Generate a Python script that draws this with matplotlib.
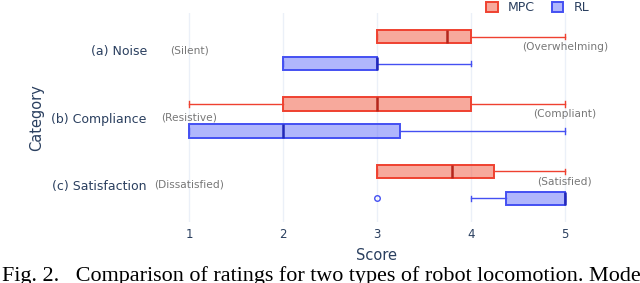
import matplotlib.pyplot as plt
from matplotlib.patches import Patch

categories = ["(a) Noise", "(b) Compliance", "(c) Satisfaction"]
low_labels = ["(Silent)", "(Resistive)", "(Dissatisfied)"]
high_labels = ["(Overwhelming)", "(Compliant)", "(Satisfied)"]
score_ticks = [1, 2, 3, 4, 5]

# MPC box stats per category
mpc_lo = [3, 1, 3]
mpc_q1 = [3, 2, 3]
mpc_med = [3.75, 3, 3.8]
mpc_q3 = [4, 4, 4.25]
mpc_hi = [5, 5, 5]
mpc_out = [[], [], []]

# RL box stats per category
rl_lo = [2, 1, 4]
rl_q1 = [2, 1, 4.375]
rl_med = [3, 2, 5]
rl_q3 = [3, 3.25, 5]
rl_hi = [4, 5, 5]
rl_out = [[], [], [3]]

MPC_LINE = "#ef4130"
MPC_FILL = (0.94, 0.33, 0.23, 0.5)
MPC_MED = "#b5261c"
RL_LINE = "#4450f2"
RL_FILL = (0.39, 0.43, 0.98, 0.5)
RL_MED = "#2228b8"
TXT = "#2a3f5f"
GRID = "#ebf0f8"


def make_stats(lo, q1, med, q3, hi, out):
    stats = []
    for i in range(len(lo)):
        stats.append({"whislo": lo[i], "q1": q1[i], "med": med[i],
                      "q3": q3[i], "whishi": hi[i], "fliers": out[i]})
    return stats


def draw(ax, stats, pos, line, fill, med):
    ax.bxp(stats, positions=pos, widths=0.2, capwidths=0.08,
           orientation="horizontal", patch_artist=True, showfliers=True,
           boxprops=dict(facecolor=fill, edgecolor=line, linewidth=1.4),
           whiskerprops=dict(color=line, linewidth=1.0),
           capprops=dict(color=line, linewidth=1.0),
           medianprops=dict(color=med, linewidth=1.8),
           flierprops=dict(marker="o", markersize=4, markerfacecolor="none",
                           markeredgecolor=line, markeredgewidth=1.0))


fig = plt.figure(figsize=(6.4, 2.83), dpi=100)
ax = fig.add_axes([0.288, 0.2155, 0.602, 0.7385])

ypos = list(range(len(categories)))
draw(ax, make_stats(mpc_lo, mpc_q1, mpc_med, mpc_q3, mpc_hi, mpc_out),
     [y - 0.2 for y in ypos], MPC_LINE, MPC_FILL, MPC_MED)
draw(ax, make_stats(rl_lo, rl_q1, rl_med, rl_q3, rl_hi, rl_out),
     [y + 0.2 for y in ypos], RL_LINE, RL_FILL, RL_MED)

for i, y in enumerate(ypos):
    ax.text(1, y, low_labels[i], ha="center", va="center", fontsize=7.7, color="#777777")
    ax.text(5, y - 0.05, high_labels[i], ha="center", va="center", fontsize=7.7, color="#777777")

ax.set_xlim(0.95, 5.05)
ax.set_ylim(2.55, -0.55)
ax.set_xticks(score_ticks)
ax.set_xticklabels([str(t) for t in score_ticks])
ax.set_yticks(ypos)
ax.set_yticklabels(categories)
ax.tick_params(axis="x", length=0, pad=4, labelsize=8.5, labelcolor=TXT)
ax.tick_params(axis="y", length=0, pad=27, labelsize=9, labelcolor=TXT)
ax.grid(axis="x", color=GRID, linewidth=1.0)
ax.set_axisbelow(True)
for s in ax.spines.values():
    s.set_visible(False)

ax.set_xlabel("Score", fontsize=10.5, color=TXT, labelpad=5)
ax.set_ylabel("Category", fontsize=10.5, color=TXT, labelpad=5)

handles = [Patch(facecolor=MPC_FILL, edgecolor=MPC_LINE, linewidth=1.4, label="MPC"),
           Patch(facecolor=RL_FILL, edgecolor=RL_LINE, linewidth=1.4, label="RL")]
fig.legend(handles=handles, loc="upper right", bbox_to_anchor=(0.938, 1.035), ncol=2,
           frameon=False, fontsize=9, handlelength=0.9, handleheight=0.9,
           handletextpad=0.8, columnspacing=1.4, labelcolor=TXT)

fig.text(0.003, 0.007, "Fig. 2.   Comparison of ratings for two types of robot locomotion. Model",
         family="Liberation Serif", fontsize=15.9, color="black", va="baseline", ha="left")

fig.savefig("out.png", dpi=100)
